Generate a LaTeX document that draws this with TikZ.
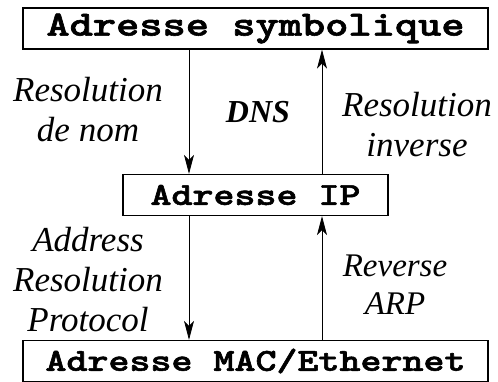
\documentclass[tikz,border=0pt]{standalone}
\usepackage{fontspec}
\setmainfont{Liberation Serif}
\newfontfamily\machine[FakeBold=1.6]{lmmonolt10-bold.otf}
\usetikzlibrary{calc}
\usetikzlibrary{arrows.meta}
\newcommand{\etire}[1]{\scalebox{1.25}[1]{#1}}
\tikzset{
    adresse/.style={draw, line width=1.3pt, minimum height=41pt, inner sep=0pt,
        font=\fontsize{32}{38}\selectfont\machine},
    fleche/.style={-{Stealth[length=19pt,width=10pt,inset=5pt]}, line width=0.8pt},
    legende/.style={inner sep=0pt, align=center, font=\fontsize{35}{40}\selectfont\itshape}
}
\begin{document}
\begin{tikzpicture}[x=1pt,y=-1pt]
			\useasboundingbox (0,0) rectangle (498,381);

			\node[adresse, minimum width=465pt, font=\fontsize{35.4}{40}\selectfont\machine] (symb) at (255.5,28.5) {\etire{Adresse symbolique}};
			\node[adresse, minimum width=265pt] (ip) at ($(symb)+(0,166.5)$) {\etire{Adresse IP}};
			\node[adresse, minimum width=465pt] (mac) at ($(ip)+(0,166)$) {\etire{Adresse MAC/Ethernet}};

			% colonnes des fleches
			\coordinate (gauche) at (189,0);
			\coordinate (droite) at (322,0);

			\draw[fleche] (symb.south -| gauche) -- (ip.north -| gauche);
			\draw[fleche] (ip.north -| droite) -- (symb.south -| droite);
			\draw[fleche] (ip.south -| gauche) -- (mac.north -| gauche);
			\draw[fleche] (mac.north -| droite) -- (ip.south -| droite);

			\node[legende] (nom) at (88,110) {Resolution\\de nom};
			\node[legende, font=\fontsize{32}{38}\selectfont\bfseries\itshape] (dns) at (258,112.5) {DNS};
			\node[legende] (inverse) at (417,125) {Resolution\\inverse};
			\node[legende] (arp) at (88,280) {Address\\Resolution\\Protocol};
			\node[legende, font=\fontsize{33}{38}\selectfont\itshape] (rarp) at (395,285) {Reverse\\ARP};

		\end{tikzpicture}
\end{document}
